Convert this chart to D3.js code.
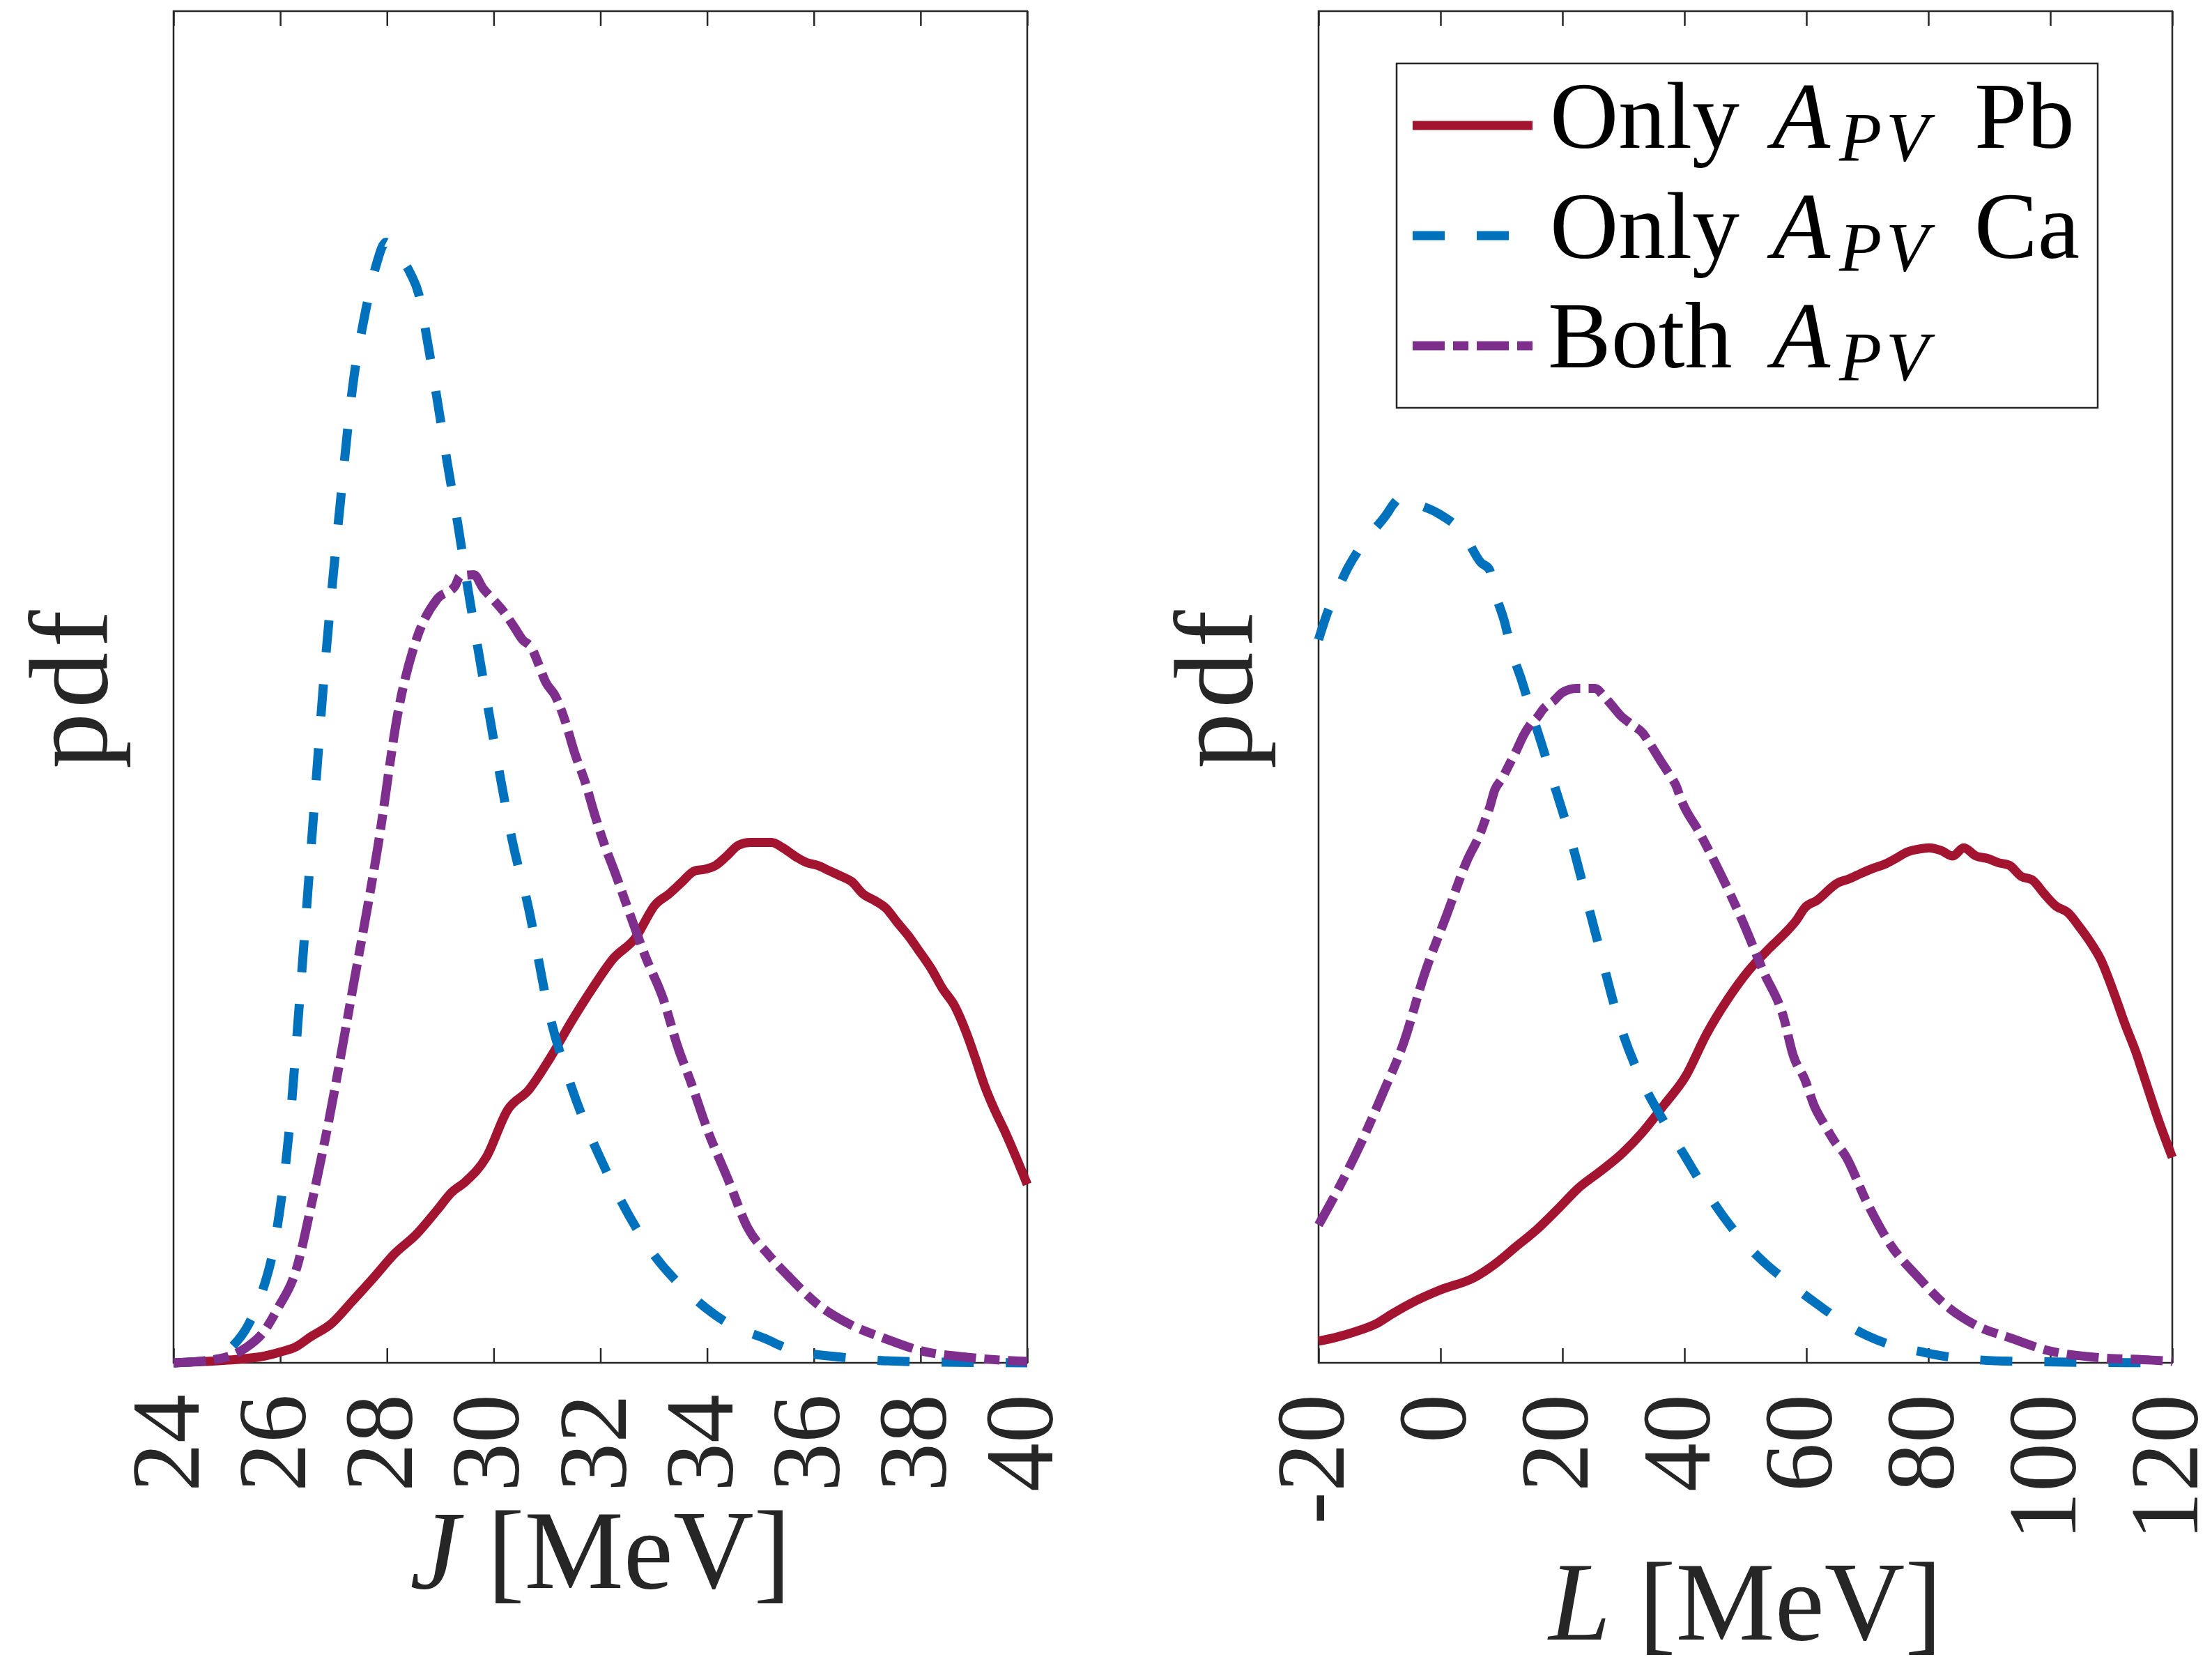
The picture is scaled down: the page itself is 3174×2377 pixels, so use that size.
<!DOCTYPE html>
<html>
<head>
<meta charset="utf-8">
<script src="https://cdn.jsdelivr.net/npm/d3@7"></script>
<style>
  body { margin: 0; background: #fff; }
  text { font-family: "Liberation Serif", "DejaVu Serif", serif; fill: #262626; }
</style>
</head>
<body>
<svg id="chart"></svg>
<script>
// ---- data (pdf given as fraction of the axis height) ----
var jTicks = [24, 26, 28, 30, 32, 34, 36, 38, 40];
var lTicks = [-20, 0, 20, 40, 60, 80, 100, 120];

// J [MeV] panel
var jPb = [[24,0],[24.6,0.001],[25.3,0.003],[25.7,0.005],[26.0,0.008],[26.3,0.012],[26.56,0.019],[26.96,0.029],[27.36,0.046],
  [27.75,0.063],[28.15,0.081],[28.55,0.095],[28.94,0.113],[29.21,0.126],[29.47,0.134],[29.86,0.152],
  [30.26,0.187],[30.66,0.202],[31.05,0.225],[31.45,0.252],[31.85,0.277],[32.24,0.299],[32.65,0.314],
  [33.03,0.339],[33.29,0.347],[33.51,0.355],[33.77,0.364],[33.94,0.365],[34.16,0.368],[34.37,0.375],
  [34.59,0.383],[34.81,0.385],[35.21,0.385],[35.42,0.381],[35.68,0.374],[35.87,0.37],[36.07,0.368],
  [36.29,0.364],[36.51,0.36],[36.71,0.356],[36.92,0.347],[37.14,0.342],[37.36,0.336],[37.56,0.326],
  [37.77,0.316],[37.95,0.306],[38.21,0.291],[38.41,0.277],[38.64,0.264],[38.86,0.244],[39.03,0.225],
  [39.2,0.205],[39.39,0.187],[39.56,0.173],[40,0.132]];
var jCa = [[24,0],[24.7,0.002],[25.1,0.012],[25.4,0.028],[25.64,0.05],[25.9,0.09],[26.17,0.173],
  [26.38,0.277],[26.62,0.403],[26.82,0.507],[27.03,0.598],[27.15,0.646],[27.27,0.693],[27.42,0.74],
  [27.53,0.764],[27.64,0.786],[27.79,0.811],[27.98,0.829],[28.07,0.824],[28.44,0.806],[28.6,0.79],
  [28.74,0.76],[28.94,0.713],[29.13,0.666],[29.33,0.62],[29.52,0.572],[29.72,0.525],[29.92,0.479],
  [30.13,0.432],[30.35,0.386],[30.64,0.339],[31.05,0.257],[31.45,0.205],[32.11,0.142],[32.91,0.085],
  [33.7,0.05],[34.4,0.029],[35.08,0.018],[35.55,0.01],[36.55,0.004],[37.7,0.001],[40,0]];
var jBoth = [[24,0],[24.85,0.003],[25.35,0.011],[25.69,0.023],[25.95,0.04],[26.3,0.069],[26.6,0.12],
  [26.88,0.173],[27.36,0.277],[27.83,0.382],[28.23,0.486],[28.55,0.535],[28.94,0.565],[29.28,0.575],
  [29.37,0.582],[29.63,0.583],[29.8,0.573],[29.96,0.566],[30.22,0.554],[30.39,0.544],[30.54,0.535],
  [30.71,0.529],[30.84,0.517],[30.97,0.504],[31.16,0.493],[31.33,0.476],[31.52,0.451],[31.72,0.429],
  [31.89,0.406],[32.07,0.384],[32.28,0.362],[32.48,0.34],[32.85,0.3],[33.18,0.269],[33.44,0.235],
  [33.72,0.205],[34.0,0.173],[34.4,0.135],[34.76,0.1],[35.15,0.08],[35.55,0.063],[36.05,0.044],
  [36.7,0.028],[37.33,0.018],[38.0,0.009],[38.9,0.004],[40,0.001]];

// L [MeV] panel
var lPb = [[-20,0.016],[-17,0.019],[-14,0.023],[-10.5,0.029],[-8,0.036],[-4,0.046],[0,0.054],[5.5,0.063],
  [8.9,0.073],[12.4,0.086],[15.9,0.099],[19.3,0.114],[22.8,0.13],[26.3,0.142],[29.8,0.155],[33.2,0.171],
  [36.7,0.191],[40.2,0.212],[43.6,0.243],[47.1,0.269],[50.5,0.29],[54.0,0.307],[56.3,0.317],[58.3,0.327],
  [59.8,0.337],[61.7,0.342],[65.1,0.355],[67.0,0.358],[68.9,0.362],[71.0,0.366],[72.9,0.369],[74.6,0.373],
  [76.6,0.378],[78.4,0.38],[80.1,0.381],[82.1,0.379],[84.0,0.375],[85.8,0.381],[87.8,0.375],[89.8,0.373],
  [91.5,0.37],[93.3,0.368],[95.2,0.36],[97.1,0.357],[99.0,0.347],[100.9,0.338],[102.9,0.333],[104.7,0.323],
  [106.6,0.311],[108.3,0.298],[110.4,0.274],[112.3,0.25],[114.1,0.229],[115.2,0.214],[117.7,0.18],[120,0.152]];
var lCa = [[-20,0.535],[-18.29,0.558],[-17.37,0.567],[-15.09,0.589],[-13.49,0.601],[-12.23,0.609],
  [-8.8,0.628],[-7.77,0.635],[-6.29,0.641],[-5.14,0.638],[-0.23,0.628],[3.66,0.614],[6.63,0.592],
  [8.0,0.587],[8.8,0.572],[10.51,0.548],[11.66,0.527],[13.37,0.504],[14.86,0.482],[16.57,0.458],
  [18.06,0.436],[19.66,0.413],[21.14,0.391],[25,0.325],[29.8,0.245],[33.2,0.207],[36.7,0.178],
  [40.2,0.152],[43.7,0.126],[48.3,0.097],[52.9,0.075],[57.5,0.058],[62.2,0.042],[66.7,0.028],
  [70,0.02],[74,0.013],[79,0.008],[84,0.004],[95,0.001],[120,0]];
var lBoth = [[-20,0.102],[-16.5,0.131],[-13.0,0.163],[-9.5,0.199],[-6.1,0.236],[-2.6,0.288],[0.9,0.33],
  [4.3,0.371],[6.63,0.393],[7.43,0.403],[8.0,0.41],[8.91,0.424],[10.06,0.432],[11.2,0.442],[12.34,0.452],
  [13.71,0.465],[14.86,0.473],[15.77,0.477],[16.91,0.484],[18.63,0.49],[20.0,0.496],[22.29,0.499],
  [25.37,0.499],[26.63,0.494],[28.0,0.487],[29.49,0.479],[31.43,0.472],[33.14,0.466],[34.06,0.46],
  [36.0,0.446],[37.71,0.434],[38.63,0.427],[39.43,0.417],[42.5,0.392],[45.9,0.362],[49.5,0.327],
  [52.9,0.29],[56.3,0.255],[57.8,0.228],[59.8,0.209],[61.3,0.19],[63.0,0.176],[64.6,0.164],[66.3,0.154],
  [70,0.118],[73.7,0.088],[78.4,0.063],[83,0.042],[87.7,0.028],[93.7,0.018],[99.7,0.009],[107.6,0.004],
  [116.7,0.002],[120,0.001]];

var legendHead = ["Only", "Only", "Both"];
var legendTail = ["Pb", "Ca", ""];
var colors = ["#A2142F", "#0072BD", "#7E2F8E"];
var dashes = [null, "46,46", "46,12,22,12"];

var W = 3174, H = 2377;
var plotTop = 16, plotBottom = 1955;

var svg = d3.select("#chart").attr("width", W).attr("height", H);

var yScale = d3.scaleLinear().domain([0, 1]).range([plotBottom, plotTop]);

var panels = [
  {x0: 249, x1: 1474, domain: [24, 40], ticks: jTicks, series: [jPb, jCa, jBoth], sym: "J", labelY: 2278},
  {x0: 1892, x1: 3117, domain: [-20, 120], ticks: lTicks, series: [lPb, lCa, lBoth], sym: "L", labelY: 2352}
];

panels.forEach(function(p) {
  var xScale = d3.scaleLinear().domain(p.domain).range([p.x0, p.x1]);
  var g = svg.append("g");

  // box
  g.append("rect")
    .attr("x", p.x0).attr("y", plotTop)
    .attr("width", p.x1 - p.x0).attr("height", plotBottom - plotTop)
    .attr("fill", "none").attr("stroke", "#262626").attr("stroke-width", 2.5);

  // inward ticks bottom and top
  var axB = g.append("g").attr("transform", "translate(0," + plotBottom + ")")
    .call(d3.axisBottom(xScale).tickValues(p.ticks).tickSize(-21).tickSizeOuter(0).tickFormat(""));
  var axT = g.append("g").attr("transform", "translate(0," + plotTop + ")")
    .call(d3.axisTop(xScale).tickValues(p.ticks).tickSize(-21).tickSizeOuter(0).tickFormat(""));
  [axB, axT].forEach(function(a) {
    a.select(".domain").remove();
    a.selectAll(".tick line").attr("stroke", "#262626").attr("stroke-width", 2.5);
  });

  // rotated tick labels
  g.selectAll(".tlab")
    .data(p.ticks)
    .enter().append("text")
      .attr("class", "tlab")
      .attr("transform", function(d) { return "translate(" + (xScale(d) + 36) + ",2000) rotate(-90)"; })
      .attr("text-anchor", "end")
      .style("font-size", "140px")
      .text(function(d) { return String(d); });

  // x label
  var xl = g.append("text")
    .attr("x", (p.x0 + p.x1) / 2).attr("y", p.labelY)
    .attr("text-anchor", "middle")
    .style("font-size", "160px");
  xl.append("tspan").style("font-style", "italic").text(p.sym);
  xl.append("tspan").text(" [MeV]");

  // y label
  g.append("text")
    .attr("transform", "translate(" + (p.x0 - 96) + "," + ((plotTop + plotBottom) / 2) + ") rotate(-90)")
    .attr("text-anchor", "middle")
    .style("font-size", "160px")
    .style("letter-spacing", "7px")
    .text("pdf");

  // curves
  var line = d3.line()
    .x(function(d) { return xScale(d[0]); })
    .y(function(d) { return yScale(d[1]); })
    .curve(d3.curveMonotoneX);

  p.series.forEach(function(s, i) {
    g.append("path")
      .datum(s)
      .attr("d", line)
      .attr("fill", "none")
      .attr("stroke", colors[i])
      .attr("stroke-width", 13)
      .attr("stroke-dasharray", dashes[i]);
  });
});

// legend
var lg = svg.append("g");
lg.append("rect")
  .attr("x", 2004).attr("y", 91).attr("width", 1006).attr("height", 494)
  .attr("fill", "#fff").attr("stroke", "#262626").attr("stroke-width", 2.5);

legendHead.forEach(function(h, i) {
  var cy = 180 + i * 158;
  var base = 212 + i * 157.5;
  lg.append("line")
    .attr("x1", 2027).attr("x2", 2199).attr("y1", cy).attr("y2", cy)
    .attr("stroke", colors[i]).attr("stroke-width", 13)
    .attr("stroke-dasharray", dashes[i]);
  var t = lg.append("text").attr("y", base).style("font-size", "136px").style("fill", "#000");
  t.append("tspan").attr("x", i === 2 ? 2221 : 2224).text(h);
  t.append("tspan").attr("x", 2543).style("font-style", "italic").text("A");
  t.append("tspan").attr("x", 2639).attr("dy", 18)
    .style("font-style", "italic").style("font-size", "100px").style("letter-spacing", "6px").text("PV");
  if (legendTail[i]) {
    t.append("tspan").attr("x", 2833).attr("dy", -18).text(legendTail[i]);
  }
});
</script>
</body>
</html>
